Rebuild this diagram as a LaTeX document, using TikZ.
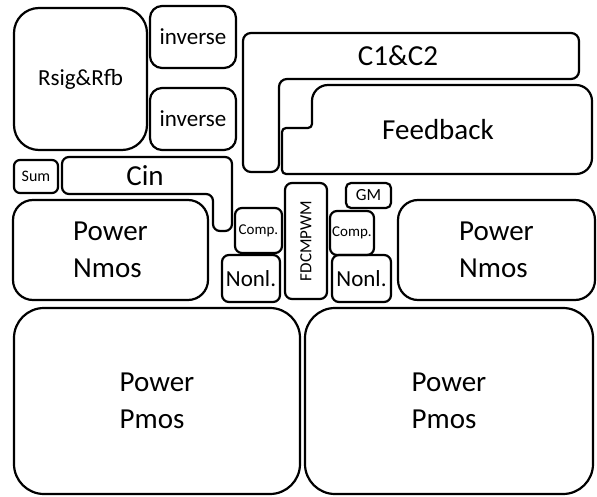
\documentclass[tikz,border=0pt]{standalone}
\usepackage{fontspec}
\setmainfont{Carlito}
\usetikzlibrary{positioning}

\begin{document}
\begin{tikzpicture}[
    x=1pt, y=-1pt,
    line width=2.2pt,
    blk/.style={draw, inner sep=0pt, align=left},
    big/.style={font=\fontsize{29}{37}\selectfont},
    mid/.style={font=\fontsize{23}{27}\selectfont},
    tiny/.style={font=\fontsize{16}{19}\selectfont}
]
\useasboundingbox (0,0) rectangle (597,497);

% left column
\node[blk, mid, rounded corners=25pt, minimum width=133pt, minimum height=142pt] (rsig) at (80.5,79) {Rsig\&Rfb};
\node[blk, mid, rounded corners=12pt, minimum width=86pt, minimum height=62pt] (inv1) at (193,37) {inverse};
\node[blk, mid, rounded corners=12pt, minimum width=86pt, minimum height=62pt] (inv2) at (193,119) {inverse};
\node[blk, tiny, rounded corners=6pt, minimum width=44pt, minimum height=33pt] (sum) at (36,176.5) {Sum};

% Cin (L shape)
\draw[rounded corners=7pt] (62,157) -- (232,157) -- (232,231) -- (213,231) -- (213,194) -- (62,194) -- cycle;
\node[big] (cin) at (145,175.5) {Cin};

% C1&C2 and Feedback (L shapes)
\draw[rounded corners=8pt] (243,33) -- (579,33) -- (579,79) -- (279,79) -- (279,172) -- (243,172) -- cycle;
\node[big] (c1c2) at (398,56) {C1\&C2};
\draw[rounded corners=4pt] (282,150) -- (282,128) -- (312,128)
  [rounded corners=16pt] -- (312,85) -- (592,85) -- (592,174)
  [rounded corners=4pt] -- (282,174) -- cycle;
\node[big] (fb) at (438,130) {Feedback};

% control blocks
\node[blk, tiny, rounded corners=7pt, rotate=90, minimum width=116pt, minimum height=42pt, font=\fontsize{17}{20}\selectfont] (fdc) at (306,241) {FDCMPWM};
\node[blk, tiny, rounded corners=5pt, minimum width=45pt, minimum height=25pt, font=\fontsize{17}{20}\selectfont] (gm) at (368.5,195.5) {GM};
\node[blk, rounded corners=7pt, minimum width=47pt, minimum height=45pt, font=\fontsize{15}{18}\selectfont] (comp1) at (258.5,230.5) {Comp.};
\node[blk, rounded corners=7pt, minimum width=44pt, minimum height=44pt, font=\fontsize{15}{18}\selectfont] (comp2) at (352,233) {Comp.};
\node[blk, mid, rounded corners=7pt, minimum width=58pt, minimum height=47pt] (nonl1) at (251,278.5) {Nonl.};
\node[blk, mid, rounded corners=7pt, minimum width=59pt, minimum height=47pt] (nonl2) at (361.5,278.5) {Nonl.};

% power stage
\node[blk, big, rounded corners=20pt, minimum width=195pt, minimum height=100pt] (nmos1) at (110.5,250) {Power\\Nmos};
\node[blk, big, rounded corners=20pt, minimum width=197pt, minimum height=100pt] (nmos2) at (496.5,250) {Power\\Nmos};
\node[blk, big, rounded corners=30pt, minimum width=286pt, minimum height=186pt] (pmos1) at (157,401) {Power\\Pmos};
\node[blk, big, rounded corners=30pt, minimum width=288pt, minimum height=186pt] (pmos2) at (449,401) {Power\\Pmos};
\end{tikzpicture}
\end{document}
